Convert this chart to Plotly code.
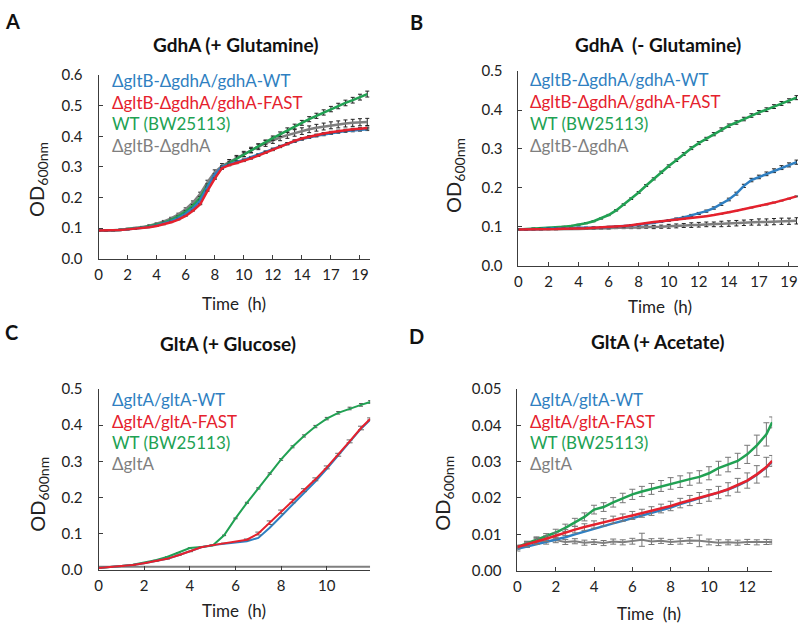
import plotly.graph_objects as go

# ---- panel A / B : reads on a category-like axis (4 reads per tick label)
reads = list(range(38))
read_tick_pos = [0, 4, 8, 12, 16, 20, 24, 28, 32, 36]
read_tick_txt = ["0", "2", "4", "6", "8", "10", "12", "14", "17", "19"]

a_wt = [0.092, 0.092, 0.093, 0.094, 0.096, 0.098, 0.101, 0.104, 0.109, 0.115,
        0.123, 0.133, 0.147, 0.165, 0.190, 0.235, 0.275, 0.300, 0.309, 0.316,
        0.323, 0.331, 0.340, 0.349, 0.358, 0.367, 0.376, 0.384, 0.391, 0.397,
        0.402, 0.406, 0.410, 0.414, 0.417, 0.419, 0.421, 0.423]
a_fast = [0.092, 0.092, 0.093, 0.094, 0.096, 0.098, 0.100, 0.103, 0.107, 0.112,
          0.119, 0.128, 0.140, 0.157, 0.178, 0.222, 0.262, 0.296, 0.306, 0.313,
          0.320, 0.328, 0.337, 0.347, 0.356, 0.366, 0.376, 0.385, 0.393, 0.399,
          0.404, 0.409, 0.413, 0.417, 0.420, 0.423, 0.425, 0.427]
a_bw = [0.092, 0.092, 0.093, 0.094, 0.097, 0.099, 0.102, 0.106, 0.111, 0.118,
        0.127, 0.139, 0.154, 0.174, 0.200, 0.240, 0.265, 0.298, 0.313, 0.327,
        0.340, 0.354, 0.368, 0.381, 0.394, 0.407, 0.420, 0.432, 0.444, 0.456,
        0.467, 0.478, 0.489, 0.499, 0.509, 0.518, 0.528, 0.538]
a_del = [0.092, 0.092, 0.093, 0.095, 0.097, 0.100, 0.103, 0.108, 0.114, 0.122,
         0.132, 0.145, 0.162, 0.184, 0.212, 0.250, 0.283, 0.303, 0.316, 0.329,
         0.342, 0.355, 0.366, 0.377, 0.387, 0.396, 0.404, 0.411, 0.417, 0.423,
         0.428, 0.432, 0.436, 0.439, 0.442, 0.444, 0.446, 0.447]

b_wt = [0.093, 0.093, 0.094, 0.094, 0.095, 0.095, 0.096, 0.096, 0.097, 0.097,
        0.098, 0.098, 0.099, 0.100, 0.101, 0.103, 0.105, 0.107, 0.110, 0.113,
        0.116, 0.120, 0.124, 0.129, 0.134, 0.140, 0.148, 0.158, 0.170, 0.185,
        0.205, 0.220, 0.228, 0.236, 0.244, 0.252, 0.259, 0.266]
b_fast = [0.093, 0.093, 0.093, 0.094, 0.094, 0.094, 0.095, 0.095, 0.096, 0.096,
          0.097, 0.098, 0.099, 0.100, 0.102, 0.104, 0.107, 0.109, 0.112, 0.114,
          0.116, 0.118, 0.120, 0.122, 0.125, 0.127, 0.130, 0.133, 0.137, 0.141,
          0.145, 0.149, 0.153, 0.157, 0.162, 0.167, 0.172, 0.178]
b_bw = [0.093, 0.094, 0.095, 0.096, 0.097, 0.098, 0.100, 0.102, 0.105, 0.109,
        0.114, 0.121, 0.130, 0.142, 0.157, 0.172, 0.188, 0.206, 0.223, 0.240,
        0.256, 0.271, 0.287, 0.302, 0.315, 0.326, 0.338, 0.350, 0.360, 0.368,
        0.377, 0.386, 0.394, 0.401, 0.409, 0.417, 0.424, 0.432]
b_del = [0.093, 0.093, 0.093, 0.093, 0.093, 0.093, 0.094, 0.094, 0.094, 0.095,
         0.095, 0.096, 0.096, 0.097, 0.097, 0.098, 0.098, 0.099, 0.099, 0.100,
         0.101, 0.102, 0.103, 0.104, 0.105, 0.106, 0.106, 0.107, 0.108, 0.109,
         0.110, 0.111, 0.112, 0.112, 0.113, 0.114, 0.114, 0.115]
b_del_err = [0.001, 0.001, 0.001, 0.001, 0.001, 0.001, 0.001, 0.001, 0.001, 0.001,
             0.002, 0.002, 0.002, 0.002, 0.002, 0.003, 0.003, 0.003, 0.004, 0.004,
             0.005, 0.005, 0.005, 0.006, 0.006, 0.006, 0.006, 0.007, 0.007, 0.007,
             0.007, 0.007, 0.008, 0.008, 0.008, 0.008, 0.008, 0.008]

# ---- panel C : GltA + glucose (hours)
c_time = [0, 0.5, 1, 1.5, 2, 2.5, 3, 3.5, 4, 4.5, 5, 5.5, 6, 6.5, 7, 7.5, 8,
          8.5, 9, 9.5, 10, 10.5, 11, 11.5, 11.9]
c_wt = [0.005, 0.007, 0.009, 0.013, 0.018, 0.024, 0.030, 0.040, 0.050, 0.062,
        0.068, 0.072, 0.076, 0.079, 0.088, 0.116, 0.148, 0.180, 0.212, 0.244,
        0.279, 0.316, 0.353, 0.390, 0.415]
c_fast = [0.005, 0.007, 0.009, 0.013, 0.018, 0.024, 0.030, 0.040, 0.050, 0.062,
          0.068, 0.073, 0.078, 0.083, 0.100, 0.130, 0.160, 0.190, 0.220, 0.250,
          0.283, 0.318, 0.355, 0.392, 0.417]
c_bw = [0.005, 0.007, 0.010, 0.014, 0.019, 0.026, 0.035, 0.047, 0.060, 0.063,
        0.067, 0.095, 0.142, 0.185, 0.225, 0.266, 0.305, 0.340, 0.370, 0.396,
        0.418, 0.434, 0.446, 0.456, 0.464]
c_del = [0.008, 0.008, 0.009, 0.008, 0.008, 0.009, 0.008, 0.009, 0.009, 0.008,
         0.009, 0.008, 0.008, 0.009, 0.008, 0.009, 0.008, 0.008, 0.009, 0.008,
         0.008, 0.009, 0.008, 0.008, 0.008]
c_fast_err = [0, 0, 0, 0, 0, 0, 0, 0, 0, 0, 0, 0, 0, 0.002, 0.004, 0.005, 0.005,
              0.005, 0.004, 0.004, 0.004, 0.004, 0.004, 0.005, 0.003]

# ---- panel D : GltA + acetate (hours)
d_time = [0, 0.5, 1, 1.5, 2, 2.5, 3, 3.5, 4, 4.5, 5, 5.5, 6, 6.5, 7, 7.5, 8,
          8.5, 9, 9.5, 10, 10.5, 11, 11.5, 12, 12.5, 13, 13.3]
d_wt = [0.0060, 0.0066, 0.0072, 0.0078, 0.0084, 0.0092, 0.0100, 0.0108, 0.0116,
        0.0123, 0.0130, 0.0137, 0.0144, 0.0151, 0.0158, 0.0166, 0.0174, 0.0183,
        0.0191, 0.0199, 0.0206, 0.0214, 0.0223, 0.0234, 0.0247, 0.0264, 0.0284,
        0.0300]
d_fast = [0.0065, 0.0072, 0.0080, 0.0088, 0.0096, 0.0105, 0.0113, 0.0120, 0.0127,
          0.0133, 0.0140, 0.0146, 0.0152, 0.0158, 0.0164, 0.0171, 0.0178, 0.0186,
          0.0193, 0.0200, 0.0207, 0.0215, 0.0224, 0.0235, 0.0248, 0.0265, 0.0285,
          0.0302]
d_bw = [0.0065, 0.0075, 0.0085, 0.0093, 0.0105, 0.0118, 0.0133, 0.0148, 0.0168,
        0.0175, 0.0188, 0.0200, 0.0210, 0.0218, 0.0225, 0.0233, 0.0240, 0.0245,
        0.0252, 0.0258, 0.0268, 0.0282, 0.0292, 0.0302, 0.0320, 0.0345, 0.0375,
        0.0408]
d_del = [0.0060, 0.0072, 0.0083, 0.0080, 0.0084, 0.0079, 0.0081, 0.0077, 0.0079,
         0.0076, 0.0080, 0.0078, 0.0081, 0.0085, 0.0080, 0.0082, 0.0079, 0.0081,
         0.0083, 0.0082, 0.0079, 0.0077, 0.0078, 0.0077, 0.0079, 0.0078, 0.0079,
         0.0079]
d_fast_err = [0.0005, 0.0006, 0.0008, 0.0008, 0.0008, 0.0008, 0.0009, 0.0009, 0.0010,
              0.0010, 0.0010, 0.0010, 0.0011, 0.0011, 0.0012, 0.0012, 0.0013, 0.0013,
              0.0014, 0.0015, 0.0016, 0.0017, 0.0018, 0.0019, 0.0021, 0.0024, 0.0027,
              0.0015]
d_bw_err = [0.0005, 0.0006, 0.0008, 0.0009, 0.0009, 0.0010, 0.0011, 0.0011, 0.0012,
            0.0012, 0.0013, 0.0013, 0.0014, 0.0014, 0.0015, 0.0015, 0.0016, 0.0016,
            0.0017, 0.0017, 0.0018, 0.0019, 0.0020, 0.0021, 0.0025, 0.0028, 0.0032,
            0.0015]
d_del_err = [0.0006, 0.0008, 0.0008, 0.0007, 0.0007, 0.0007, 0.0007, 0.0007, 0.0007,
             0.0007, 0.0007, 0.0007, 0.0008, 0.0018, 0.0008, 0.0007, 0.0007, 0.0008,
             0.0008, 0.0016, 0.0008, 0.0008, 0.0007, 0.0007, 0.0007, 0.0007, 0.0007,
             0.0006]

BLUE, RED, GREEN, GREY = "#2f7fc1", "#e5212d", "#21a153", "#7f7f7f"
FONT = "Lato"
W, H = 800, 636


def px(x, y):
    return x / W, 1 - y / H


fig = go.Figure()


def add(xv, yv, color, axis, width=2.5, err=None, pct=None, ecol="#3a3a3a", ew=2):
    xa, ya = axis
    e = None
    if err is not None:
        e = dict(type="data", array=err, color=ecol, thickness=1, width=ew)
    elif pct is not None:
        e = dict(type="percent", value=pct, color=ecol, thickness=1, width=ew)
    fig.add_trace(go.Scatter(x=xv, y=yv, mode="lines", line=dict(color=color, width=width),
                             error_y=e, xaxis=xa, yaxis=ya, showlegend=False,
                             hoverinfo="skip"))


# A
add(reads, a_del, GREY, ("x", "y"), pct=2.6, ecol="#222")
add(reads, a_bw, GREEN, ("x", "y"), pct=1.8, ecol="#222")
add(reads, a_wt, BLUE, ("x", "y"), pct=1.0)
add(reads, a_fast, RED, ("x", "y"), pct=0.8)
# B
add(reads, b_del, GREY, ("x2", "y2"), err=b_del_err, ecol="#222")
add(reads, b_bw, GREEN, ("x2", "y2"), pct=1.2, ecol="#222")
add(reads, b_wt, BLUE, ("x2", "y2"), pct=2.0, ecol="#222")
add(reads, b_fast, RED, ("x2", "y2"), pct=0.6)
# C
add(c_time, c_del, GREY, ("x3", "y3"), width=2)
add(c_time, c_bw, GREEN, ("x3", "y3"), width=2, pct=0.8, ecol="#555")
add(c_time, c_wt, BLUE, ("x3", "y3"), width=2)
add(c_time, c_fast, RED, ("x3", "y3"), width=2, err=c_fast_err, ecol="#666", ew=3)
# D
add(d_time, d_del, GREY, ("x4", "y4"), width=2, err=d_del_err, ecol="#777", ew=3)
add(d_time, d_bw, GREEN, ("x4", "y4"), width=2.5, err=d_bw_err, ecol="#777", ew=3)
add(d_time, d_wt, BLUE, ("x4", "y4"), width=2.5)
add(d_time, d_fast, RED, ("x4", "y4"), width=2.5, err=d_fast_err, ecol="#777", ew=3)

axis_common = dict(showline=True, linecolor="#3c3c3c", linewidth=1, ticks="inside",
                   ticklen=4, tickcolor="#3c3c3c", showgrid=False, zeroline=False,
                   tickfont=dict(family=FONT, size=15, color="#222"))


def xdom(a, b):
    return [a / W, b / W]


def ydom(top, bottom):
    return [1 - bottom / H, 1 - top / H]


fig.update_layout(
    width=W, height=H, margin=dict(l=0, r=0, t=0, b=0),
    paper_bgcolor="white", plot_bgcolor="white",
    xaxis=dict(axis_common, domain=xdom(95, 368), anchor="y", range=[0, 37.4],
               tickvals=read_tick_pos, ticktext=read_tick_txt, ticklabelstandoff=2),
    yaxis=dict(axis_common, domain=ydom(67, 256), anchor="x", range=[0, 0.6],
               dtick=0.1, tickformat=".1f", ticklabelstandoff=12),
    xaxis2=dict(axis_common, domain=xdom(517, 798), anchor="y2", range=[0, 37.2],
                tickvals=read_tick_pos, ticktext=read_tick_txt, ticklabelstandoff=2),
    yaxis2=dict(axis_common, domain=ydom(63, 263), anchor="x2", range=[0, 0.5],
                dtick=0.1, tickformat=".1f", ticklabelstandoff=12),
    xaxis3=dict(axis_common, domain=xdom(95, 368), anchor="y3", range=[0, 11.9],
                tickvals=[0, 2, 4, 6, 8, 10], ticklabelstandoff=2),
    yaxis3=dict(axis_common, domain=ydom(390, 576), anchor="x3", range=[0, 0.5],
                dtick=0.1, tickformat=".1f", ticklabelstandoff=12),
    xaxis4=dict(axis_common, domain=xdom(516, 772), anchor="y4", range=[0, 13.3],
                tickvals=[0, 2, 4, 6, 8, 10, 12], ticklabelstandoff=2),
    yaxis4=dict(axis_common, domain=ydom(390, 577), anchor="x4", range=[0, 0.05],
                dtick=0.01, tickformat=".2f", ticklabelstandoff=12),
)


def text(x, y, s, size=14, color="#222", bold=False, angle=0, xanchor="center"):
    xp, yp = px(x, y)
    if bold:
        s = "<b>" + s + "</b>"
    fig.add_annotation(x=xp, y=yp, xref="paper", yref="paper", text=s, showarrow=False,
                       xanchor=xanchor, yanchor="middle", textangle=angle, borderpad=0,
                       font=dict(family=FONT, size=size, color=color))


# panel letters and titles
for letter, (lx, ly) in zip("ABCD", [(9, 11), (415, 12), (8, 331), (415, 335)]):
    text(lx, ly, letter, size=20, color="#111", bold=True)
text(233, 35, "GdhA (+ Glutamine)", size=19, color="#111", bold=True)
text(657, 35, "GdhA  (- Glutamine)", size=19, color="#111", bold=True)
text(225, 343, "GltA (+ Glucose)", size=19, color="#111", bold=True)
text(657, 341, "GltA (+ Acetate)", size=19, color="#111", bold=True)

# axis titles
od = "OD<sub>600nm</sub>"
for x, y in [(33, 174), (452, 170), (35, 498), (442, 497)]:
    text(x, y, od, size=20, angle=-90)
for x, y in [(231, 302), (659, 305), (231, 618), (648, 621)]:
    text(x, y, "Time  (h)", size=17)

# in-plot legends
gdh_labels = ["ΔgltB-ΔgdhA/gdhA-WT", "ΔgltB-ΔgdhA/gdhA-FAST", "WT (BW25113)", "ΔgltB-ΔgdhA"]
glt_labels = ["ΔgltA/gltA-WT", "ΔgltA/gltA-FAST", "WT (BW25113)", "ΔgltA"]
colors = [BLUE, RED, GREEN, GREY]
for lx, rows, labels in [(108, [73, 95, 117, 139], gdh_labels),
                         (528, [72, 94, 117, 139], gdh_labels),
                         (108, [401, 423, 445, 467], glt_labels),
                         (528, [401, 423, 445, 467], glt_labels)]:
    for ry, lab, col in zip(rows, labels, colors):
        text(lx, ry, lab, size=17, color=col, xanchor="left")

# drop the browser's default 8px body margin so the figure sits at the page origin
fig.write_html("out.html", config={"displayModeBar": False},
               post_script="document.body.style.margin='0';")
